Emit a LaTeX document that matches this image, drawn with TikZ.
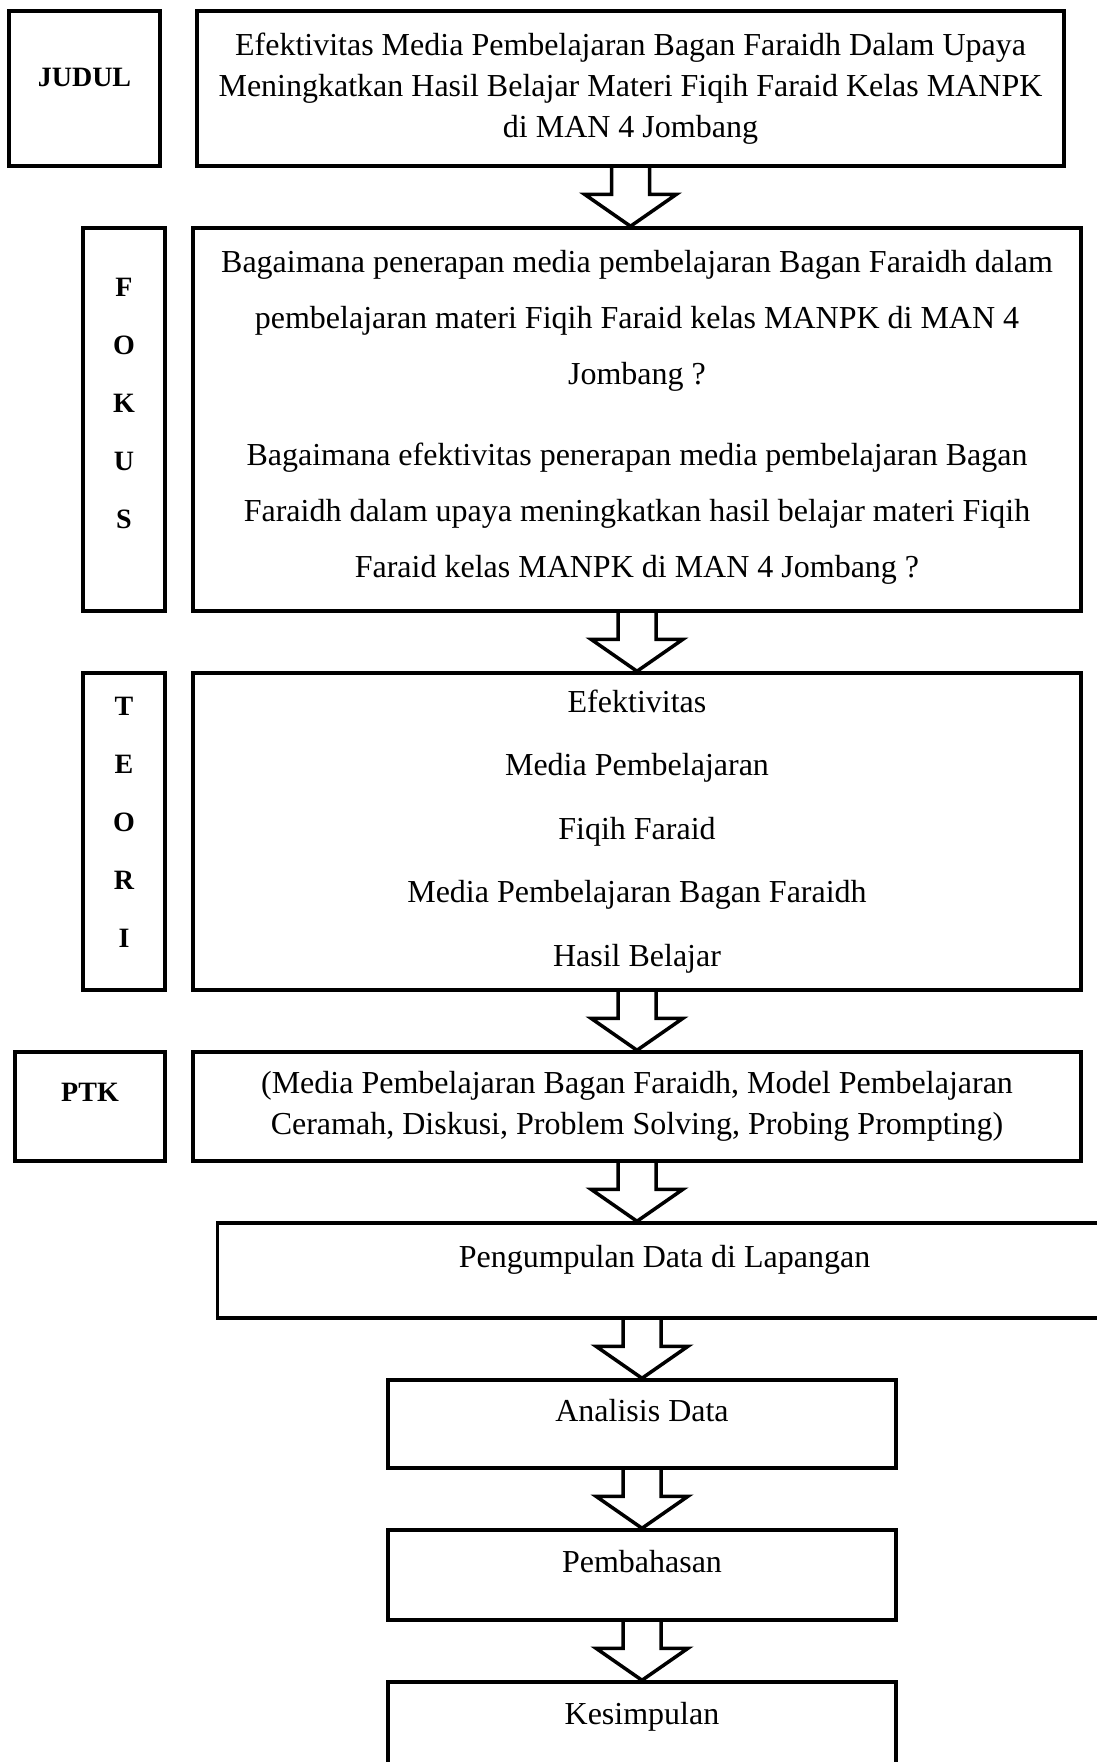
\documentclass[tikz,border=0pt]{standalone}
\usepackage{fontspec}
\setmainfont{Liberation Serif}
\usetikzlibrary{positioning,calc}

% hollow block arrow pointing down, from #1 (top) to #2 (tip)
\newcommand\fatarrow[2]{%
  \draw[fat] let \p1=#1, \p2=#2 in
    (\x1-9.5pt,\y1) -- (\x1-9.5pt,\y2+16pt) -- (\x1-23pt,\y2+16pt)
    -- (\x1,\y2) -- (\x1+23pt,\y2+16pt) -- (\x1+9.5pt,\y2+16pt)
    -- (\x1+9.5pt,\y1);}

\begin{document}
\begin{tikzpicture}[
  x=0.5pt, y=0.5pt,
  tbox/.style={draw, line width=1.75pt, align=center, inner sep=4pt},
  main/.style={tbox, minimum width=444pt, font=\fontsize{16}{28}\selectfont},
  low/.style={tbox, font=\fontsize{16}{20}\selectfont,
              text height=11pt, text depth=14pt},
  lab/.style={tbox, font=\fontsize{14}{29}\selectfont\bfseries,
              text height=10pt, text depth=12pt},
  vlab/.style={tbox, font=\fontsize{14}{29}\selectfont\bfseries,
               minimum width=41pt},
  fat/.style={line width=1.75pt, line join=miter},
]
\useasboundingbox (0,0) rectangle (1097,-1762);

% --- title ---
\node[main, minimum width=433.5pt, minimum height=77.5pt,
      font=\fontsize{16}{20.5}\selectfont] (judul) at (630.5,-88.5)
  {Efektivitas Media Pembelajaran Bagan Faraidh Dalam Upaya\\
   Meningkatkan Hasil Belajar Materi Fiqih Faraid Kelas MANPK\\
   di MAN 4 Jombang};
\node[lab, minimum width=75.5pt, minimum height=77.5pt,
      left=16.75pt of judul] (judulLab) {JUDUL};

% --- focus ---
\node[main, minimum height=191.5pt, below=29.25pt of judul, xshift=3.25pt] (fokus)
  {Bagaimana penerapan media pembelajaran Bagan Faraidh dalam\\
   pembelajaran materi Fiqih Faraid kelas MANPK di MAN 4\\
   Jombang ?\\[12.5pt]
   Bagaimana efektivitas penerapan media pembelajaran Bagan\\
   Faraidh  dalam upaya meningkatkan hasil belajar materi Fiqih\\
   Faraid kelas MANPK di MAN 4 Jombang ?\\[-22pt]};
\node[vlab, minimum height=191.5pt, left=12.25pt of fokus] (fokusLab)
  {F\\ O\\ K\\ U\\ S\\[-13pt]};

% --- theory ---
\node[main, minimum height=158.5pt, below=29.25pt of fokus,
      font=\fontsize{16}{31.75}\selectfont] (teori)
  {Efektivitas\\ Media Pembelajaran\\ Fiqih Faraid\\
   Media Pembelajaran Bagan Faraidh\\ Hasil Belajar};
\node[vlab, minimum height=158.5pt, left=12.25pt of teori] (teoriLab)
  {T\\ E\\ O\\ R\\ I\\[-20pt]};

% --- classroom action research ---
\node[main, minimum height=54.5pt, below=29.25pt of teori,
      font=\fontsize{16}{20.5}\selectfont] (ptk)
  {(Media Pembelajaran Bagan Faraidh, Model Pembelajaran\\
   Ceramah, Diskusi, Problem Solving, Probing Prompting)};
\node[lab, minimum width=75pt, minimum height=54.5pt, text depth=15pt,
      left=12.25pt of ptk] (ptkLab) {PTK};

% --- steps ---
\node[low, minimum width=447pt, minimum height=47.5pt,
      below=29.25pt of ptk, xshift=13.75pt] (kumpul) {Pengumpulan Data di Lapangan};
\node[low, minimum width=254pt, minimum height=44pt,
      below=29.25pt of kumpul, xshift=-11.25pt] (analisis) {Analisis Data};
\node[low, minimum width=254pt, minimum height=45pt,
      below=29.25pt of analisis] (bahas) {Pembahasan};
\node[low, minimum width=254pt, minimum height=45pt,
      below=29.25pt of bahas] (simpul) {Kesimpulan};

% --- arrows ---
\fatarrow{(judul.south)}{(judul.south |- fokus.north)}
\fatarrow{(fokus.south)}{(teori.north)}
\fatarrow{(teori.south)}{(ptk.north)}
\fatarrow{(ptk.south)}{(ptk.south |- kumpul.north)}
\fatarrow{(analisis.north |- kumpul.south)}{(analisis.north)}
\fatarrow{(analisis.south)}{(bahas.north)}
\fatarrow{(bahas.south)}{(simpul.north)}
\end{tikzpicture}
\end{document}
